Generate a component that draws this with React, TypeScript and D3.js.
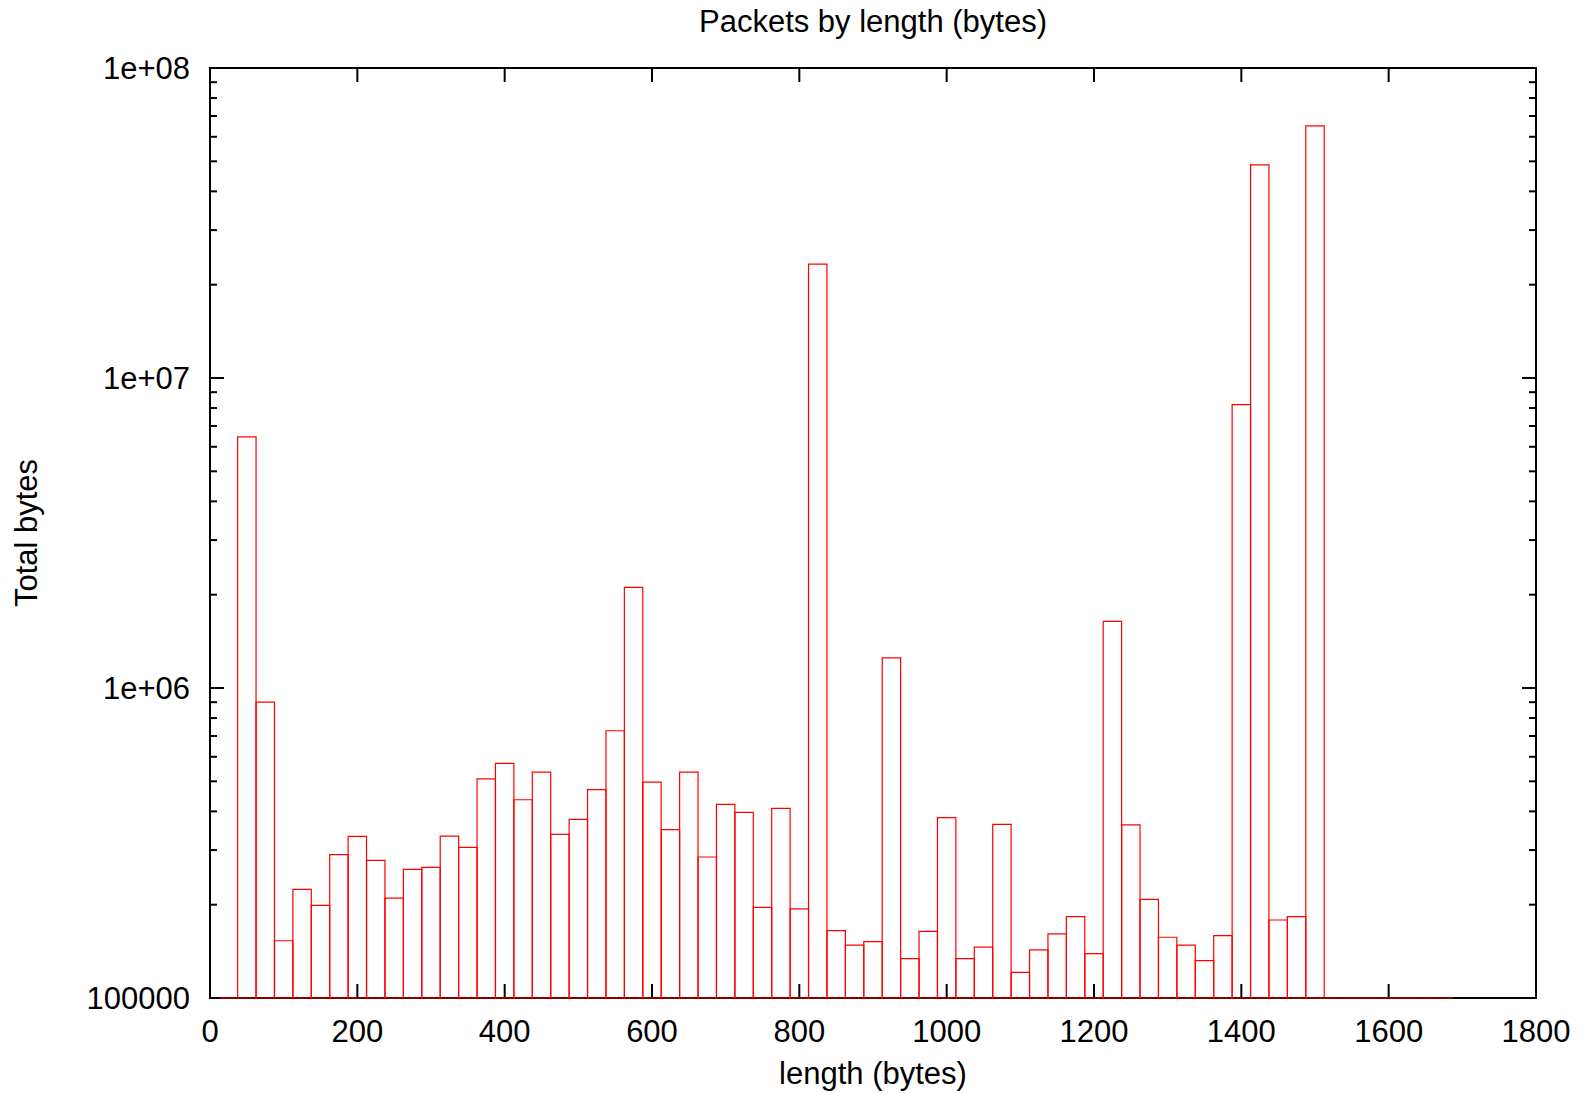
import React from "react";
import * as d3 from "d3";

// ---- data ----
const binCenters: number[] = d3.range(25, 1676, 25);
const totalBytes: number[] = [
  0, 6.46e6, 9.0e5, 1.53e5, 2.24e5, 1.99e5, 2.9e5, 3.32e5, 2.78e5, 2.1e5,
  2.6e5, 2.64e5, 3.33e5, 3.06e5, 5.09e5, 5.71e5, 4.36e5, 5.35e5, 3.37e5, 3.77e5,
  4.7e5, 7.28e5, 2.11e6, 4.97e5, 3.49e5, 5.35e5, 2.85e5, 4.21e5, 3.97e5, 1.96e5,
  4.09e5, 1.94e5, 2.33e7, 1.65e5, 1.48e5, 1.52e5, 1.25e6, 1.34e5, 1.64e5, 3.82e5,
  1.34e5, 1.46e5, 3.63e5, 1.21e5, 1.43e5, 1.61e5, 1.83e5, 1.39e5, 1.64e6, 3.62e5,
  2.08e5, 1.57e5, 1.48e5, 1.32e5, 1.59e5, 8.2e6, 4.87e7, 1.785e5, 1.83e5, 6.51e7,
  0, 0, 0, 0, 0, 0, 0,
];
const binWidth = 25;
const xTickValues: number[] = [0, 200, 400, 600, 800, 1000, 1200, 1400, 1600, 1800];
const yTickValues: number[] = [1e5, 1e6, 1e7, 1e8];
const yTickLabels: string[] = ["100000", "1e+06", "1e+07", "1e+08"];
const titleText = "Packets by length (bytes)";
const xLabelText = "length (bytes)";
const yLabelText = "Total bytes";

const W = 1582;
const H = 1094;
const M = { left: 210, right: 1536, top: 68, bottom: 998 };
const FONT = "'Liberation Sans', Arial, Helvetica, sans-serif";
const FS = 31;

export default function App() {
  const x = d3.scaleLinear().domain([0, 1800]).range([M.left, M.right]);
  const y = d3.scaleLog().domain([1e5, 1e8]).range([M.bottom, M.top]);

  const minorY: number[] = [];
  [1e5, 1e6, 1e7].forEach((d) => {
    for (let k = 2; k <= 9; k++) minorY.push(d * k);
  });

  const barPath = (c: number, v: number) => {
    const p = d3.path();
    const x0 = x(c - binWidth / 2);
    const x1 = x(c + binWidth / 2);
    const y0 = y(1e5);
    const yt = v > 1e5 ? y(Math.min(v, 1e8)) : y0;
    p.moveTo(x0, y0);
    p.lineTo(x0, yt);
    p.lineTo(x1, yt);
    p.lineTo(x1, y0);
    p.closePath();
    return p.toString();
  };

  const MAJ = 14;
  const MIN = 7;

  return (
    <svg
      width={W}
      height={H}
      style={{ position: "absolute", left: 0, top: 0, display: "block", background: "#fff" }}
      fontFamily={FONT}
    >
      <rect x={0} y={0} width={W} height={H} fill="#fff" />
      {/* ticks */}
      <g stroke="#000" strokeWidth={2}>
        {xTickValues.map((t) => (
          <g key={"xt" + t}>
            <line x1={x(t)} x2={x(t)} y1={M.bottom} y2={M.bottom - MAJ} />
            <line x1={x(t)} x2={x(t)} y1={M.top} y2={M.top + MAJ} />
          </g>
        ))}
        {yTickValues.map((t) => (
          <g key={"yt" + t}>
            <line x1={M.left} x2={M.left + MAJ} y1={y(t)} y2={y(t)} />
            <line x1={M.right} x2={M.right - MAJ} y1={y(t)} y2={y(t)} />
          </g>
        ))}
        {minorY.map((t) => (
          <g key={"ym" + t}>
            <line x1={M.left} x2={M.left + MIN} y1={y(t)} y2={y(t)} />
            <line x1={M.right} x2={M.right - MIN} y1={y(t)} y2={y(t)} />
          </g>
        ))}
      </g>
      {/* border */}
      <rect
        x={M.left}
        y={M.top}
        width={M.right - M.left}
        height={M.bottom - M.top}
        fill="none"
        stroke="#000"
        strokeWidth={2}
      />
      {/* bars */}
      <g fill="none" stroke="#ff0000" strokeWidth={1.2}>
        {binCenters.map((c, i) => (
          <path key={"b" + c} d={barPath(c, totalBytes[i])} />
        ))}
      </g>
      {/* tick labels */}
      <g fontSize={FS} fill="#000">
        {xTickValues.map((t) => (
          <text key={"xl" + t} x={x(t)} y={1042} textAnchor="middle">
            {t}
          </text>
        ))}
        {yTickValues.map((t, i) => (
          <text key={"yl" + t} x={M.left - 20} y={y(t)} dy="0.35em" textAnchor="end">
            {yTickLabels[i]}
          </text>
        ))}
      </g>
      {/* titles */}
      <text x={(M.left + M.right) / 2} y={32} fontSize={FS} textAnchor="middle" fill="#000">
        {titleText}
      </text>
      <text x={(M.left + M.right) / 2} y={1084} fontSize={FS} textAnchor="middle" fill="#000">
        {xLabelText}
      </text>
      <text
        transform={`translate(37, ${(M.top + M.bottom) / 2}) rotate(-90)`}
        fontSize={FS}
        textAnchor="middle"
        fill="#000"
      >
        {yLabelText}
      </text>
    </svg>
  );
}
